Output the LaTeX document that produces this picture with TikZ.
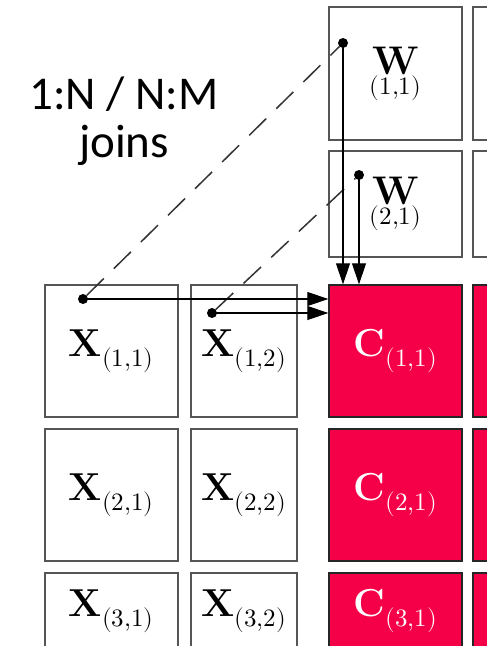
\documentclass[tikz,border=0pt]{standalone}
\usepackage{fontspec}
\usepackage{unicode-math}
\DeclareMathSizes{39}{39}{25}{18}
\newfontfamily\carlito{Carlito}
\usetikzlibrary{arrows.meta}
\definecolor{cred}{RGB}{245,0,72}
\definecolor{boxgray}{RGB}{85,85,85}
\begin{document}
\begin{tikzpicture}[x=1pt,y=-1pt,
  cell/.style={draw=boxgray,line width=1.4pt,inner sep=0pt,minimum width=133pt,minimum height=132pt},
  narrow/.style={minimum width=106pt},
  ccell/.style={cell,draw=black!85,fill=cred,text=white},
  lab/.style={font=\fontsize{39}{42}\selectfont},
  wlab/.style={align=center},
  dot/.style={circle,fill=black,inner sep=0pt,minimum size=10pt},
  arr/.style={-{Triangle[length=21pt,width=14pt]},line width=1.1pt},
  dsh/.style={draw=black!80,line width=1.5pt,dash pattern=on 24pt off 14pt},
  big/.style={font=\carlito\fontsize{47}{48}\selectfont,anchor=base,inner sep=0pt}]
\useasboundingbox (0,0) rectangle (487,646);
\clip (0,0) rectangle (487,646);
% W blocks
\node[cell,minimum height=133pt,wlab] (W11) at (395.5,73.5)
  {\fontsize{40}{35}\selectfont$\mathbf{W}$\\\fontsize{25}{35}\selectfont$(1{,}1)$};
\node[cell,minimum height=133pt] (W12) at (539.5,73.5) {};
\node[cell,minimum height=106pt,wlab] (W21) at (395.5,204)
  {\fontsize{40}{35}\selectfont$\mathbf{W}$\\\fontsize{25}{35}\selectfont$(2{,}1)$};
\node[cell,minimum height=106pt] (W22) at (539.5,204) {};
% row 1
\node[cell,lab] (X11) at (111.5,351) {$\mathbf{X}_{(1{,}1)}$};
\node[cell,narrow,lab] (X12) at (244,351) {$\mathbf{X}_{(1{,}2)}$};
\node[ccell,lab] (C11) at (395.5,351) {$\mathbf{C}_{(1{,}1)}$};
\node[ccell] (C12) at (539.5,351) {};
% row 2
\node[cell,lab] (X21) at (111.5,495) {$\mathbf{X}_{(2{,}1)}$};
\node[cell,narrow,lab] (X22) at (244,495) {$\mathbf{X}_{(2{,}2)}$};
\node[ccell,lab] (C21) at (395.5,495) {$\mathbf{C}_{(2{,}1)}$};
\node[ccell] (C22) at (539.5,495) {};
% row 3
\node[cell,lab,minimum height=76pt] (X31) at (111.5,611) {$\mathbf{X}_{(3{,}1)}$};
\node[cell,narrow,lab,minimum height=76pt] (X32) at (244,611) {$\mathbf{X}_{(3{,}2)}$};
\node[ccell,lab,minimum height=76pt] (C31) at (395.5,611) {$\mathbf{C}_{(3{,}1)}$};
\node[ccell,minimum height=76pt] (C32) at (539.5,611) {};
% text
\node[big] (t1) at (124,109) {1:N / N:M};
\node[big] (t2) at (124,157) {joins};
% dots
\node[dot] (d1) at (343,43) {};
\node[dot] (d2) at (359,175) {};
\node[dot] (d3) at (83,299) {};
\node[dot] (d4) at (212,313) {};
% dashed links
\draw[dsh] (d3) -- (d1);
\draw[dsh] (d4) -- (d2);
% arrows
\draw[arr] (d1.center) -- (d1.center |- C11.north);
\draw[arr] (d2.center) -- (d2.center |- C11.north);
\draw[arr] (d3.center) -- (d3.center -| C11.west);
\draw[arr] (d4.center) -- (d4.center -| C11.west);
\end{tikzpicture}
\end{document}
